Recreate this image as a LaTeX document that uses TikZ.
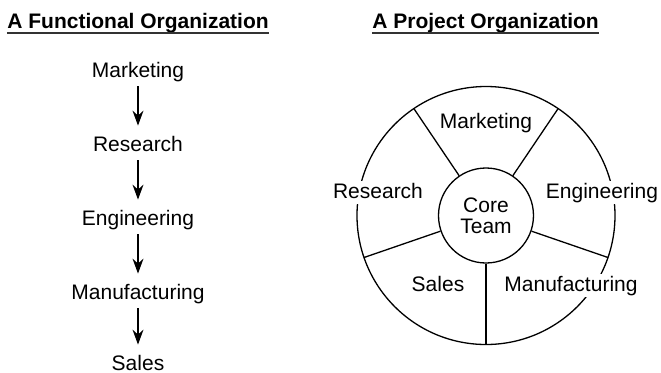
\documentclass[tikz,border=0pt]{standalone}
\usepackage{fontspec}
\setmainfont{Liberation Sans}
\usetikzlibrary{arrows.meta,calc}

\tikzset{
	lbl/.style={font=\fontsize{10.5}{10.5}\selectfont, inner sep=0pt, anchor=base, text height=7.7pt, text depth=2.2pt},
	cutlbl/.style={lbl, fill=white, inner xsep=1.5pt, inner ysep=1pt},
	ttl/.style={font=\fontsize{10.5}{12}\selectfont\bfseries, inner sep=0pt, anchor=base west},
	flow/.style={-{Stealth[length=7.5pt,width=5.5pt,inset=2.5pt]}, line width=0.65pt, shorten <=2.3pt, shorten >=4.8pt},
	ring/.style={line width=0.65pt},
	uline/.style={line width=0.8pt, black!80}
}

\begin{document}
\begin{tikzpicture}[x=0.5pt,y=0.5pt]
	\useasboundingbox (0,0) rectangle (661,372);
	% titles
	\node[ttl] (tfun) at (7,344) {A Functional Organization};
	\node[ttl] (tpro) at (372,344) {A Project Organization};
	\draw[uline] ($(tfun.base west)+(0,-5)$) -- ($(tfun.base east)+(0,-5)$);
	\draw[uline] ($(tpro.base west)+(0,-5)$) -- ($(tpro.base east)+(0,-5)$);
	% functional chain
	\node[lbl] (fmkt) at (138,295) {Marketing};
	\node[lbl] (fres) at (138,221) {Research};
	\node[lbl] (feng) at (138,147) {Engineering};
	\node[lbl] (fman) at (138,73) {Manufacturing};
	\node[lbl, text depth=0pt] (fsal) at (138,2) {Sales};
	\draw[flow] (fmkt) -- (fres);
	\draw[flow] (fres) -- (feng);
	\draw[flow] (feng) -- (fman);
	\draw[flow] (fman) -- (fsal);
	% project wheel
	\coordinate (ctr) at (486,156.5);
	\draw[ring] (ctr) circle (129);
	\node[ring, draw, circle, minimum size=47.5pt, inner sep=0pt, align=center,
		font=\fontsize{10.5}{10.5}\selectfont] (core) at (ctr) {Core\\Team};
	\foreach \a in {-90,-19,56,124,199}
		\draw[ring] (core.\a) -- ($(ctr)+(\a:129)$);
	\node[lbl] (pmkt) at (486,244) {Marketing};
	\node[cutlbl] (pres) at (378,174) {Research};
	\node[cutlbl] (peng) at (602,174) {Engineering};
	\node[lbl] (psal) at (438,81) {Sales};
	\node[cutlbl] (pman) at (571,81) {Manufacturing};
\end{tikzpicture}
\end{document}
